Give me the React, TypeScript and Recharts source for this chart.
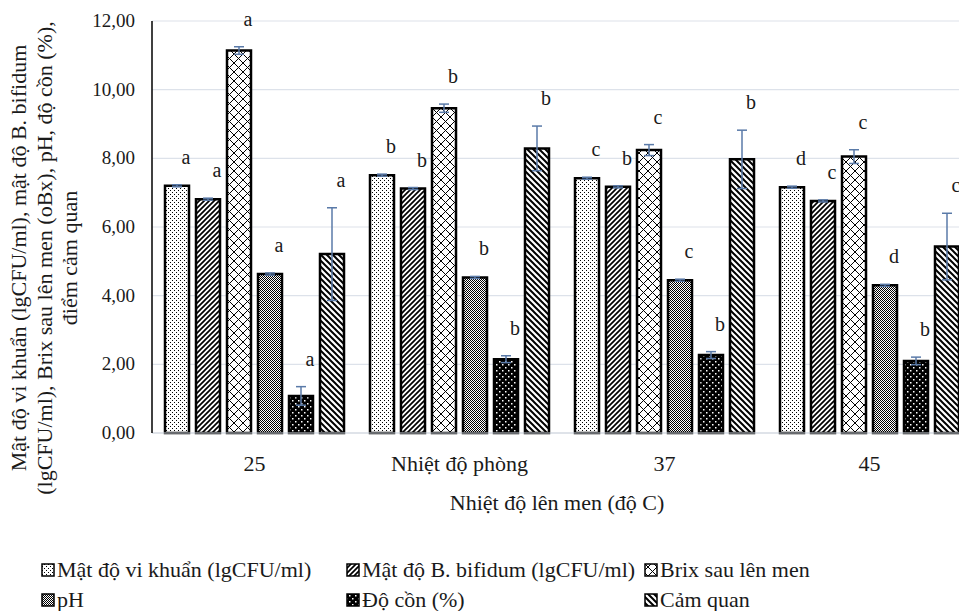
import { Bar, BarChart, CartesianGrid, ErrorBar, LabelList, XAxis, YAxis } from "recharts";

const FONT = "Liberation Serif, Tinos, Times New Roman, serif";
const TEXT = "#1a1a1a";
const ERR = "#5a7aa8";

// Nhiệt độ lên men
const categories = ["25", "Nhiệt độ phòng", "37", "45"];

const viKhuan = [7.2, 7.51, 7.42, 7.16];
const bifidum = [6.81, 7.12, 7.17, 6.76];
const brix = [11.14, 9.46, 8.24, 8.05];
const pH = [4.63, 4.53, 4.45, 4.3];
const doCon = [1.08, 2.15, 2.27, 2.1];
const camQuan = [5.21, 8.29, 7.97, 5.43];

const errViKhuan = [0.03, 0.03, 0.03, 0.03];
const errBifidum = [0.03, 0.03, 0.03, 0.03];
const errBrix = [0.11, 0.12, 0.16, 0.2];
const errPH = [0.03, 0.03, 0.03, 0.03];
const errDoCon = [0.27, 0.1, 0.1, 0.11];
const errCamQuan = [1.35, 0.65, 0.85, 0.97];

const sigViKhuan = ["a", "b", "c", "d"];
const sigBifidum = ["a", "b", "b", "c"];
const sigBrix = ["a", "b", "c", "c"];
const sigPH = ["a", "b", "c", "d"];
const sigDoCon = ["a", "b", "b", "b"];
const sigCamQuan = ["a", "b", "b", "c"];

const yTicks = [0, 2, 4, 6, 8, 10, 12];

const SERIES = [
  { key: "viKhuan", name: "Mật độ vi khuẩn (lgCFU/ml)", values: viKhuan, err: errViKhuan, sig: sigViKhuan, fill: "url(#p-dots)" },
  { key: "bifidum", name: "Mật độ B. bifidum (lgCFU/ml)", values: bifidum, err: errBifidum, sig: sigBifidum, fill: "url(#p-fwd)" },
  { key: "brix", name: "Brix sau lên men", values: brix, err: errBrix, sig: sigBrix, fill: "url(#p-cross)" },
  { key: "ph", name: "pH", values: pH, err: errPH, sig: sigPH, fill: "url(#p-gray)" },
  { key: "doCon", name: "Độ cồn (%)", values: doCon, err: errDoCon, sig: sigDoCon, fill: "url(#p-black)" },
  { key: "camQuan", name: "Cảm quan", values: camQuan, err: errCamQuan, sig: sigCamQuan, fill: "url(#p-back)" },
];

const data = categories.map((cat, i) => {
  const row: { [k: string]: string | number } = { cat };
  SERIES.forEach((s) => {
    row[s.key] = s.values[i];
    row[s.key + "Err"] = s.err[i];
    row[s.key + "Sig"] = s.sig[i];
  });
  return row;
});

const fmt = (v: number) => v.toFixed(2).replace(".", ",");

function sigLabel(values: number[], err: number[]) {
  return (p: any) => {
    const { x, y, width, height, value, index } = p;
    const unit = height / values[index];
    const top = y - err[index] * unit;
    return (
      <text x={x + width / 2 + 9} y={top - 21} textAnchor="middle"
        fontFamily={FONT} fontSize={20} fill={TEXT}>{value}</text>
    );
  };
}

function XTick(p: any) {
  const { x, y, payload } = p;
  return (
    <text x={x} y={y + 30} textAnchor="middle" fontFamily={FONT} fontSize={22} fill={TEXT}>
      {payload.value}
    </text>
  );
}

function YTick(p: any) {
  const { x, y, payload } = p;
  return (
    <text x={x} y={y + 6} textAnchor="end" fontFamily={FONT} fontSize={19} fill={TEXT}>
      {fmt(payload.value)}
    </text>
  );
}

function Patterns() {
  return (
    <defs>
      <pattern id="p-dots" width="4" height="4" patternUnits="userSpaceOnUse">
        <rect width="4" height="4" fill="#fff" />
        <rect x="0" y="0" width="1" height="1" fill="#000" />
        <rect x="2" y="2" width="1" height="1" fill="#000" />
      </pattern>
      <pattern id="p-fwd" width="5" height="5" patternUnits="userSpaceOnUse">
        <rect width="5" height="5" fill="#fff" />
        <path d="M-1,1 L1,-1 M0,5 L5,0 M4,6 L6,4" stroke="#000" strokeWidth="1.7" />
      </pattern>
      <pattern id="p-cross" width="9" height="9" patternUnits="userSpaceOnUse">
        <rect width="9" height="9" fill="#fff" />
        <path d="M0,0 L9,9 M9,0 L0,9" stroke="#000" strokeWidth="1" />
      </pattern>
      <pattern id="p-gray" width="2" height="2" patternUnits="userSpaceOnUse">
        <rect width="2" height="2" fill="#fff" />
        <rect x="0" y="0" width="1" height="1" fill="#000" />
        <rect x="1" y="1" width="1" height="1" fill="#000" />
      </pattern>
      <pattern id="p-black" width="6" height="6" patternUnits="userSpaceOnUse">
        <rect width="6" height="6" fill="#000" />
        <rect x="1" y="1" width="1.5" height="1.5" fill="#fff" />
        <rect x="4" y="4" width="1.5" height="1.5" fill="#fff" />
      </pattern>
      <pattern id="p-back" width="6" height="6" patternUnits="userSpaceOnUse">
        <rect width="6" height="6" fill="#fff" />
        <path d="M-1,5 L1,7 M0,0 L6,6 M5,-1 L7,1" stroke="#000" strokeWidth="2" />
      </pattern>
    </defs>
  );
}

const legendCols = [42, 347, 645];
const legendRows = [577, 607];

function Overlay() {
  const yLabel = [
    "Mật độ vi khuẩn (lgCFU/ml), mật độ B. bifidum",
    "(lgCFU/ml), Brix sau lên men (oBx), pH, độ cồn (%),",
    "điểm cảm quan",
  ];
  return (
    <svg width={959} height={611} style={{ position: "absolute", left: 0, top: 0, pointerEvents: "none" }}>
      <Patterns />
      {yLabel.map((t, i) => (
        <text key={i} transform={`translate(${26 + i * 25.5},258) rotate(-90)`} textAnchor="middle"
          fontFamily={FONT} fontSize={22} fill={TEXT}>{t}</text>
      ))}
      <text x={557} y={510} textAnchor="middle" fontFamily={FONT} fontSize={22} fill={TEXT}>
        Nhiệt độ lên men (độ C)
      </text>
      {SERIES.map((s, i) => {
        const x = legendCols[i % 3];
        const y = legendRows[Math.floor(i / 3)];
        return (
          <g key={s.key}>
            <rect x={x} y={y - 13} width={12} height={12} fill={s.fill} stroke="#000" strokeWidth={1.5} />
            <text x={x + 15} y={y} fontFamily={FONT} fontSize={22} fill={TEXT}>{s.name}</text>
          </g>
        );
      })}
    </svg>
  );
}

const CSS = "#root svg text, #root svg tspan { font-family: 'Liberation Serif', Tinos, 'Times New Roman', serif !important; }";

export default function App() {
  return (
    <div style={{ position: "absolute", left: 0, top: 0, width: 959, height: 611, overflow: "hidden", background: "#fff" }}>
      <style>{CSS}</style>
      <BarChart width={980} height={611} data={data}
        margin={{ top: 21, right: 8, bottom: 138, left: 0 }}
        barCategoryGap={13} barGap={7}>
        <CartesianGrid vertical={false} stroke="#dde2ea" strokeWidth={1.2} />
        <XAxis dataKey="cat" height={40} tickLine={false} axisLine={{ stroke: "#d0d5de", strokeWidth: 1.2 }}
          tick={<XTick />} />
        <YAxis width={152} domain={[0, 12]} ticks={yTicks} tickLine={false} tickSize={0} tickMargin={17}
          axisLine={{ stroke: "#000", strokeWidth: 1.5 }}
          tick={<YTick />} />
        {SERIES.map((s) => (
          <Bar key={s.key} dataKey={s.key} name={s.name} fill={s.fill} stroke="#000" strokeWidth={2.5}
            isAnimationActive={false}>
            <ErrorBar dataKey={s.key + "Err"} width={5} stroke={ERR} strokeWidth={1.5} direction="y" />
            <LabelList dataKey={s.key + "Sig"} content={sigLabel(s.values, s.err)} />
          </Bar>
        ))}
      </BarChart>
      <Overlay />
    </div>
  );
}
